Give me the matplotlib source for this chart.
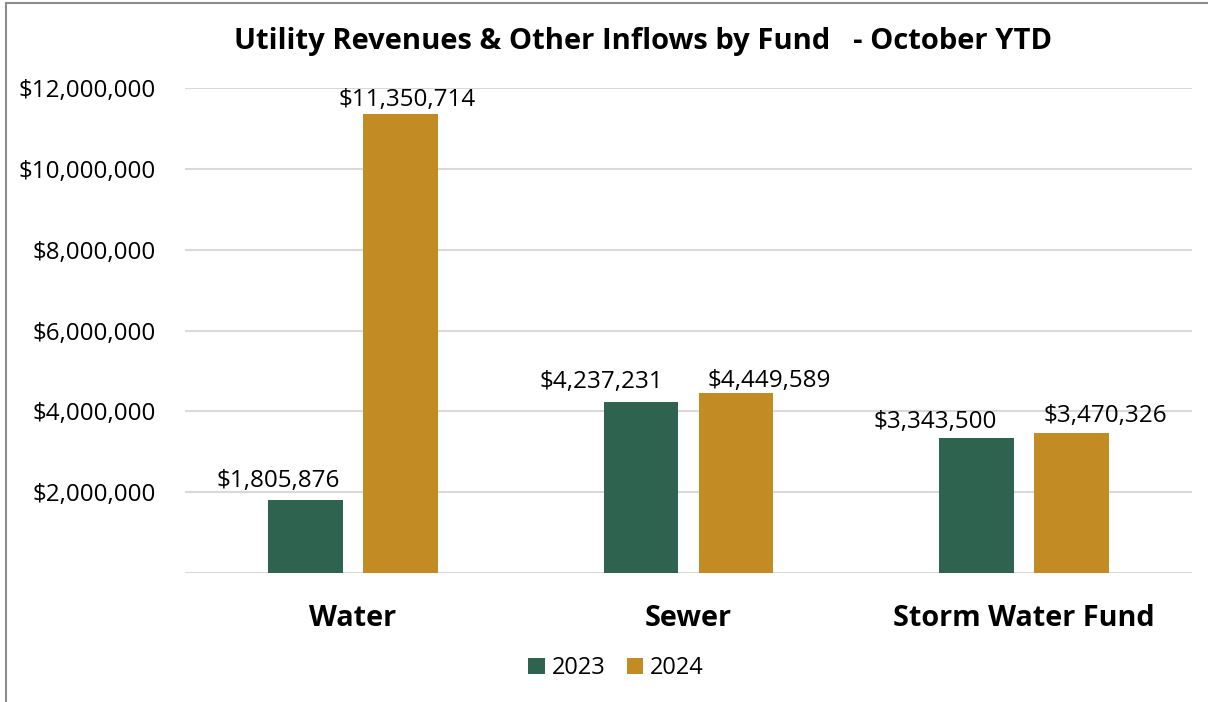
import numpy as np
import matplotlib
matplotlib.use('Agg')
import matplotlib.pyplot as plt
from matplotlib.patches import Rectangle
from matplotlib.ticker import FuncFormatter

plt.rcParams['font.family'] = ['Open Sans', 'DejaVu Sans']

# Chart data
funds = ['Water', 'Sewer', 'Storm Water Fund']
years = ['2023', '2024']
values_2023 = [1805876, 4237231, 3343500]
values_2024 = [11350714, 4449589, 3470326]
y_ticks = [2000000, 4000000, 6000000, 8000000, 10000000, 12000000]

colors = {'2023': '#2D634F', '2024': '#C28B23'}

# label nudges (pixels) so the Excel-style labels don't collide
dx_2023 = [-27, -40, -42]
dx_2024 = [7, 33, 34]
dy_2023 = [13, 14, 10]
dy_2024 = [8, 6, 11]

fig = plt.figure(figsize=(12.08, 7.02), dpi=100)
ax = fig.add_axes([0.1531, 0.1838, 0.8337, 0.6908])

# Outer chart border (only top and left visible in the reference)
fig.patches.append(Rectangle((6 / 1208, -0.1), 1.2, 1.1 - 3 / 702,
                             transform=fig.transFigure, fill=False,
                             edgecolor='#8C8C8C', linewidth=1.5))

x = np.arange(len(funds))
width = 0.223
offset = 0.1415

bars1 = ax.bar(x - offset, values_2023, width, color=colors['2023'], label='2023', zorder=3)
bars2 = ax.bar(x + offset, values_2024, width, color=colors['2024'], label='2024', zorder=3)

# Data labels
px = 0.72  # points per pixel at dpi 100
for bars, dxs, dys in ((bars1, dx_2023, dy_2023), (bars2, dx_2024, dy_2024)):
    for b, dx, dy in zip(bars, dxs, dys):
        h = b.get_height()
        ax.annotate(f'${h:,.0f}', (b.get_x() + b.get_width() / 2, h),
                    xytext=(dx * px, dy * px), textcoords='offset points',
                    ha='center', va='baseline', fontsize=17.5, color='#000000')

ax.set_xlim(-0.5, len(funds) - 0.5)
ax.set_ylim(0, 12000000)
ax.set_yticks(y_ticks)
ax.yaxis.set_major_formatter(FuncFormatter(lambda v, p: f'${v:,.0f}'))
ax.tick_params(axis='y', length=0, pad=21, labelsize=17.4, labelcolor='#000000')
ax.set_xticks(x)
ax.set_xticklabels(funds, fontsize=20.8, fontweight='bold')
ax.tick_params(axis='x', length=0, pad=22)

ax.grid(axis='y', color='#D9D9D9', linewidth=1.5, zorder=0)
ax.axhline(0, color='#D9D9D9', linewidth=1.5, zorder=1)
for s in ax.spines.values():
    s.set_visible(False)

fig.text(0.5327, 0.941, 'Utility Revenues & Other Inflows by Fund   - October YTD',
         ha='center', va='center', fontsize=21, fontweight='bold')

ax.legend(loc='center', bbox_to_anchor=(0.428, -0.196), ncol=2, frameon=False,
          fontsize=17, handlelength=0.68, handleheight=0.68, handletextpad=0.3,
          columnspacing=0.9, borderaxespad=0)

fig.savefig('out.png', dpi=100)
